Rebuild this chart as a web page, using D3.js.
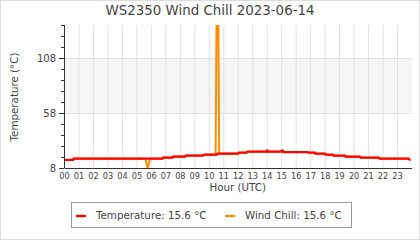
<!DOCTYPE html>
<html>
<head>
<meta charset="utf-8">
<script src="https://cdn.jsdelivr.net/npm/d3@7"></script>
<style>
  body { margin: 0; background: #fff; }
  text { font-family: "DejaVu Sans", sans-serif; fill: #444; }
</style>
</head>
<body>
<div id="chart"></div>
<script>
var svgWidth = 420;
var svgHeight = 240;

var margin = { top: 25, right: 8.5, bottom: 72, left: 64 };
var width = svgWidth - margin.left - margin.right;
var height = svgHeight - margin.top - margin.bottom;

// temperature samples (hour of day, deg C) - steps
var tempHours = [0, 0.62, 0.67, 6.8, 6.85, 7.5, 7.55, 8.35, 8.42, 9.6, 9.67, 10.56, 10.63, 12.02, 12.08, 12.6, 12.66,
  13.98, 14.02, 14.06, 14.1, 15.0, 15.04, 15.1, 15.16, 16.82, 16.88, 17.33, 17.39, 18.02, 18.08, 18.56, 18.62,
  19.4, 19.46, 20.43, 20.49, 21.74, 21.8, 23.8, 23.88, 23.93];
var temperature = [15.3, 15.3, 16.5, 16.5, 17.5, 17.5, 18.4, 18.4, 19.3, 19.3, 20.1, 20.1, 21.0, 21.0, 21.9, 21.9, 22.8,
  22.8, 23.7, 23.7, 22.8, 22.8, 23.7, 23.7, 22.5, 22.5, 21.9, 21.9, 21.0, 21.0, 20.1, 20.1, 19.2,
  19.2, 18.3, 18.3, 17.4, 17.4, 16.5, 16.5, 15.6, 15.6];

// wind chill samples: same as temperature except a dip near 05:45 and a spike near 10:35
var windHours = [0, 0.62, 0.67, 5.62, 5.78, 5.94, 6.8, 6.85, 7.5, 7.55, 8.35, 8.42, 9.6, 9.67, 10.47, 10.6, 10.72,
  12.02, 12.08, 12.6, 12.66, 13.98, 14.02, 14.06, 14.1, 15.0, 15.04, 15.1, 15.16, 16.82, 16.88, 17.33, 17.39,
  18.02, 18.08, 18.56, 18.62, 19.4, 19.46, 20.43, 20.49, 21.74, 21.8, 23.8, 23.88, 23.93];
var windChill = [15.3, 15.3, 16.5, 16.5, 7.5, 16.5, 16.5, 17.5, 17.5, 18.4, 18.4, 19.3, 19.3, 20.1, 20.1, 260, 21.0,
  21.0, 21.9, 21.9, 22.8, 22.8, 23.7, 23.7, 22.8, 22.8, 23.7, 23.7, 22.5, 22.5, 21.9, 21.9, 21.0,
  21.0, 20.1, 20.1, 19.2, 19.2, 18.3, 18.3, 17.4, 17.4, 16.5, 16.5, 15.6, 15.6];

var hourTicks = d3.range(0, 24);
var yMajorTicks = [8, 58, 108];
var yMinorTicks = d3.range(8, 139, 10);
var legendItems = [
  { label: "Temperature: 15.6 \u00b0C", color: "#ff0000" },
  { label: "Wind Chill: 15.6 \u00b0C", color: "#ff8c00" }
];

var svg = d3.select("#chart")
  .append("svg")
  .attr("width", svgWidth)
  .attr("height", svgHeight);

// light frame round the whole picture
svg.append("rect")
  .attr("x", 0.5).attr("y", 0.5)
  .attr("width", svgWidth - 1).attr("height", svgHeight - 1)
  .attr("fill", "none")
  .attr("stroke", "#ddd");

svg.append("text")
  .attr("x", 210)
  .attr("y", 15)
  .attr("text-anchor", "middle")
  .style("font-size", "13.4px")
  .text("WS2350 Wind Chill 2023-06-14");

var chartGroup = svg.append("g")
  .attr("transform", `translate(${margin.left}, ${margin.top})`);

var xScale = d3.scaleLinear().domain([0, 24]).range([0, width]);
var yScale = d3.scaleLinear().domain([8, 138]).range([height, 0]);

// shaded band between 58 and 108
chartGroup.append("rect")
  .attr("x", 0)
  .attr("y", yScale(108))
  .attr("width", width)
  .attr("height", yScale(58) - yScale(108))
  .attr("fill", "#f5f5f5");

// grid
chartGroup.selectAll(".vgrid")
  .data(hourTicks.slice(1))
  .enter()
  .append("line")
  .attr("x1", d => xScale(d) + 0.5)
  .attr("x2", d => xScale(d) + 0.5)
  .attr("y1", 0)
  .attr("y2", height)
  .attr("stroke", "#e2e2e2");

chartGroup.selectAll(".hgrid")
  .data([58, 108])
  .enter()
  .append("line")
  .attr("x1", 0)
  .attr("x2", width)
  .attr("y1", d => Math.round(yScale(d)) + 0.5)
  .attr("y2", d => Math.round(yScale(d)) + 0.5)
  .attr("stroke", "#e2e2e2");

chartGroup.append("clipPath")
  .attr("id", "plotClip")
  .append("rect")
  .attr("width", width)
  .attr("height", height);

var line = d3.line()
  .x(d => xScale(d[0]))
  .y(d => yScale(d[1]));

chartGroup.append("path")
  .datum(d3.zip(windHours, windChill))
  .attr("clip-path", "url(#plotClip)")
  .attr("d", line)
  .attr("fill", "none")
  .attr("stroke", "#ff8c00")
  .attr("stroke-width", 2);

chartGroup.append("path")
  .datum(d3.zip(tempHours, temperature))
  .attr("clip-path", "url(#plotClip)")
  .attr("d", line)
  .attr("fill", "none")
  .attr("stroke", "#ff0000")
  .attr("stroke-width", 2.3);

// y axis: major ticks with labels, minor ticks without
var yAxis = d3.axisLeft(yScale).tickValues(yMajorTicks).tickSize(5).tickPadding(3);
var yAxisG = chartGroup.append("g").call(yAxis);
yAxisG.select(".domain").remove();
yAxisG.selectAll("text").style("font-size", "10px").attr("fill", "#444");
yAxisG.selectAll("line").attr("stroke", "#333");

var yMinor = d3.axisLeft(yScale).tickValues(yMinorTicks).tickSize(3).tickFormat("");
var yMinorG = chartGroup.append("g").call(yMinor);
yMinorG.select(".domain").remove();
yMinorG.selectAll("line").attr("stroke", "#333");

chartGroup.append("line")
  .attr("x1", 0.5).attr("x2", 0.5)
  .attr("y1", 0).attr("y2", height)
  .attr("stroke", "#333");

// x axis: labels only, no tick marks
var xAxis = d3.axisBottom(xScale)
  .tickValues(hourTicks)
  .tickSize(0)
  .tickPadding(5)
  .tickFormat(d => d3.format("02d")(d));
var xAxisG = chartGroup.append("g")
  .attr("transform", `translate(0, ${height})`)
  .call(xAxis);
xAxisG.select(".domain").attr("stroke", "#333");
xAxisG.selectAll("text").style("font-size", "8.2px").attr("fill", "#444");

// axis titles
svg.append("text")
  .attr("transform", "translate(17.5, 97) rotate(-90)")
  .attr("text-anchor", "middle")
  .style("font-size", "10.3px")
  .text("Temperature (\u00b0C)");

svg.append("text")
  .attr("x", margin.left + width / 2)
  .attr("y", 191)
  .attr("text-anchor", "middle")
  .style("font-size", "10.3px")
  .text("Hour (UTC)");

// legend
var legend = svg.append("g").attr("transform", "translate(71.5, 202.5)");
legend.append("rect")
  .attr("width", 280)
  .attr("height", 25)
  .attr("fill", "#fff")
  .attr("stroke", "#999");

var legendX = [4.5, 153.5];
legendItems.forEach(function(item, i) {
  legend.append("line")
    .attr("x1", legendX[i]).attr("x2", legendX[i] + 10)
    .attr("y1", 13.5).attr("y2", 13.5)
    .attr("stroke", item.color)
    .attr("stroke-width", 2.3);
  legend.append("text")
    .attr("x", legendX[i] + 20)
    .attr("y", 16.5)
    .style("font-size", "10.3px")
    .attr("fill", "#222")
    .text(item.label);
});
</script>
</body>
</html>
